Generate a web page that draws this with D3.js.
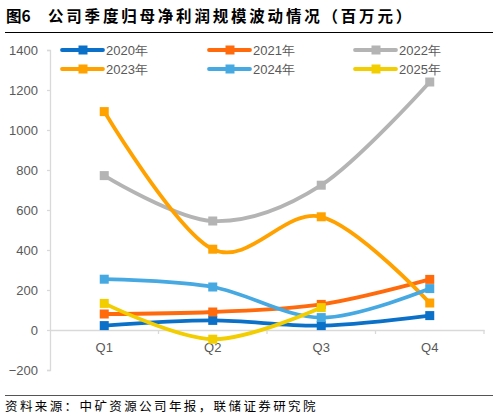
<!DOCTYPE html>
<html><head><meta charset="utf-8">
<script src="https://cdn.jsdelivr.net/npm/d3@7"></script>
<style>body{margin:0;background:#fff}svg{display:block}</style>
</head><body>
<svg id="c" width="499" height="419"></svg>
<script>
const categories = ["Q1","Q2","Q3","Q4"];
const seriesNames = ["2020年","2021年","2022年","2023年","2024年","2025年"];
const s2020 = [22, 48, 22, 72];
const s2021 = [80, 90, 128, 253];
const s2022 = [772, 545, 724, 1240];
const s2023 = [1092, 404, 566, 135];
const s2024 = [254, 215, 62, 207];
const s2025 = [133, -46, 112];
const colors = ["#0a70c8","#ff6a0c","#b4b4b4","#ffa200","#46a9e2","#f2cd00"];
const yTicks = [-200,0,200,400,600,800,1000,1200,1400];
const titleText = "公司季度归母净利润规模波动情况（百万元）";
const sourceText = "资料来源：中矿资源公司年报，联储证券研究院";
const allSeries = [s2020,s2021,s2022,s2023,s2024,s2025];

const svg = d3.select("#c");
const fontLat = "Arial, 'Liberation Sans', sans-serif";
const fontCJK = "'Noto Sans CJK SC', sans-serif";

// title
svg.append("text").attr("x",6).attr("y",22).attr("font-family",fontCJK)
  .attr("font-size",15.5).attr("font-weight","bold").attr("fill","#000").text("图6");
svg.append("text").attr("x",48).attr("y",22).attr("font-family",fontCJK)
  .attr("font-size",15.5).attr("font-weight","bold").attr("letter-spacing",2.8).attr("fill","#000").text(titleText);
svg.append("line").attr("x1",5).attr("x2",493).attr("y1",32.5).attr("y2",32.5)
  .attr("stroke","#000").attr("stroke-width",1.2);
svg.append("line").attr("x1",5).attr("x2",493).attr("y1",395.5).attr("y2",395.5)
  .attr("stroke","#555").attr("stroke-width",1.2);
svg.append("text").attr("x",5).attr("y",411).attr("font-family",fontCJK)
  .attr("font-size",12.5).attr("letter-spacing",2.4).attr("fill","#000").text(sourceText);

const x = d3.scaleBand().domain(categories).range([50,484]).padding(0);
const y = d3.scaleLinear().domain([-200,1400]).range([370,50]);

// y axis
const ya = svg.append("g").attr("transform","translate(50,0)")
  .call(d3.axisLeft(y).tickValues(yTicks).tickSize(3).tickPadding(9).tickFormat(d3.format("d")));
ya.select(".domain").attr("stroke","#d9d9d9").attr("stroke-width",1.3).attr("d","M-3,50.5H0.5V370.5H-3");
ya.selectAll(".tick line").attr("stroke","#d9d9d9").attr("stroke-width",1.3);
ya.selectAll(".tick text").attr("font-family",fontLat).attr("font-size",13).attr("fill","#595959");

// x axis at 0
const xa = svg.append("g").attr("transform",`translate(0,${y(0)})`)
  .call(d3.axisBottom(x).tickSize(0).tickPadding(13));
xa.select(".domain").attr("stroke","#d9d9d9").attr("stroke-width",1.3);
xa.selectAll(".tick text").attr("font-family",fontLat).attr("font-size",13).attr("fill","#595959");
const bounds = categories.map(c=>x(c)+x.bandwidth());
xa.selectAll(".bt").data(bounds).enter().append("line")
  .attr("x1",d=>d).attr("x2",d=>d).attr("y1",0).attr("y2",4)
  .attr("stroke","#d9d9d9").attr("stroke-width",1.3);

const cx = i => x(categories[i]) + x.bandwidth()/2;
const line = d3.line().x((d,i)=>cx(i)).y(d=>y(d)).curve(d3.curveCatmullRom.alpha(0));

allSeries.forEach((s,k)=>{
  const g = svg.append("g");
  g.append("path").attr("d",line(s)).attr("fill","none").attr("stroke",colors[k])
    .attr("stroke-width",3.8).attr("stroke-linejoin","round").attr("stroke-linecap","round");
  g.selectAll("rect").data(s).enter().append("rect")
    .attr("x",(d,i)=>cx(i)-4.5).attr("y",d=>y(d)-4.5).attr("width",9).attr("height",9)
    .attr("fill",colors[k]);
});

// legend
const legX = [62,209,355], legY = [50,69];
seriesNames.forEach((n,k)=>{
  const lx = legX[k%3], ly = legY[Math.floor(k/3)];
  const g = svg.append("g");
  g.append("line").attr("x1",lx).attr("x2",lx+41).attr("y1",ly).attr("y2",ly)
    .attr("stroke",colors[k]).attr("stroke-width",3.8).attr("stroke-linecap","round");
  g.append("rect").attr("x",lx+16.5).attr("y",ly-4.5).attr("width",9).attr("height",9).attr("fill",colors[k]);
  g.append("text").attr("x",lx+44).attr("y",ly+4.5).attr("font-family",fontLat)
    .attr("font-size",13).attr("fill","#595959").text(n);
});
</script>
</body></html>
